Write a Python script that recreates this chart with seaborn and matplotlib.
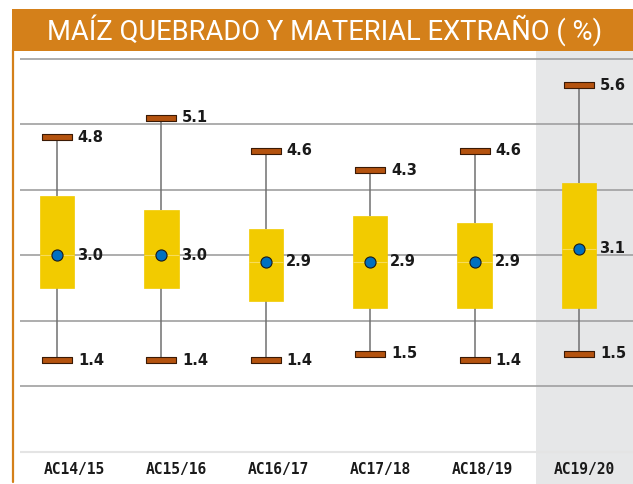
import numpy as np
import pandas as pd
import seaborn as sns
import matplotlib.pyplot as plt
from matplotlib.patches import Rectangle
from matplotlib.lines import Line2D
from matplotlib.path import Path

# datos (%)
campanas = ["AC14/15", "AC15/16", "AC16/17", "AC17/18", "AC18/19", "AC19/20"]
minimo = [1.4, 1.4, 1.4, 1.5, 1.4, 1.5]
q1 = [2.5, 2.5, 2.3, 2.2, 2.2, 2.2]
promedio = [3.0, 3.0, 2.9, 2.9, 2.9, 3.1]
q3 = [3.9, 3.7, 3.4, 3.6, 3.5, 4.1]
maximo = [4.8, 5.1, 4.6, 4.3, 4.6, 5.6]

naranja = "#D4801A"
amarillo = "#F2CB00"
marron = "#B4530F"
azul = "#0070C0"

# cinco puntos por campaña -> cuartiles exactos en el boxplot
filas = []
for i, c in enumerate(campanas):
    for v in [minimo[i], q1[i], promedio[i], q3[i], maximo[i]]:
        filas.append({"campana": c, "valor": v})
df = pd.DataFrame(filas)

sns.set_style("white")
fig = plt.figure(figsize=(6.33, 4.84), dpi=100)
W, H = 633, 484
ax = fig.add_axes([20 / W, 0, 613 / W, (H - 51) / H])

# franja gris de la última campaña
ax.axvspan(4.59, 6.0, color="#E6E7E8", zorder=0, lw=0)

# líneas horizontales
for y in range(1, 7):
    ax.axhline(y, color="#A0A0A0", lw=1.2, zorder=0.5)
ax.axhline(0, color="#E4E4E4", lw=1.5, zorder=0.5)

sns.boxplot(data=df, x="campana", y="valor", order=campanas, ax=ax,
            whis=(0, 100), width=0.33, showfliers=False, saturation=1,
            boxprops=dict(facecolor=amarillo, edgecolor=amarillo, linewidth=0.5, zorder=2),
            whiskerprops=dict(color="#707070", linewidth=1.1, zorder=1.5),
            capprops=dict(color=marron, linewidth=1, zorder=1.5),
            medianprops=dict(color="#F7DC5A", linewidth=0.8, zorder=2.1))

# topes de los bigotes como barritas marrones
barra = Path([(-1, -0.2), (1, -0.2), (1, 0.2), (-1, 0.2), (-1, -0.2)],
             [Path.MOVETO, Path.LINETO, Path.LINETO, Path.LINETO, Path.CLOSEPOLY])
for serie in [minimo, maximo]:
    sns.stripplot(x=campanas, y=serie, order=campanas, jitter=False, ax=ax,
                  marker=barra, size=22, color=marron, edgecolor="#3A1A05",
                  linewidth=0.8, zorder=5)

# promedio
sns.stripplot(x=campanas, y=promedio, order=campanas, jitter=False, ax=ax,
              marker="o", size=8, color=azul, edgecolor="#1A1A1A",
              linewidth=0.8, zorder=6)

# etiquetas de valores
for i in range(len(campanas)):
    for v, dx in [(maximo[i], 0.2), (minimo[i], 0.2), (promedio[i], 0.19)]:
        ax.text(i + dx, v, f"{v:.1f}", ha="left", va="center", fontsize=10.5,
                fontweight="bold", color="#1A1A1A", family="DejaVu Sans", zorder=7)
    # las etiquetas del eje van algo corridas a la derecha en el original
    ax.text(i + 0.17 - 0.024 * i, -0.27, campanas[i], ha="center", va="center",
            fontsize=10.5, fontweight="bold", color="#1A1A1A",
            family="DejaVu Sans Mono")

ax.set_xlim(-0.354, 5.517)
ax.set_ylim(-0.49, 6.12)
ax.set_xlabel("")
ax.set_ylabel("")
ax.set_xticks([])
ax.set_yticks([])
for s in ax.spines.values():
    s.set_visible(False)

# banda del título y borde izquierdo
fig.add_artist(Rectangle((12 / W, (H - 50.5) / H), (W - 12) / W, 41.5 / H,
                         transform=fig.transFigure, color=naranja, lw=0))
fig.add_artist(Line2D([13 / W, 13 / W], [2 / H, (H - 50) / H],
                      transform=fig.transFigure, color=naranja, lw=1.6))
fig.text(325 / W, (H - 30) / H, "MAÍZ QUEBRADO Y MATERIAL EXTRAÑO ( %)",
         ha="center", va="center", color="white", fontsize=19.7,
         family=["Roboto", "DejaVu Sans"])

plt.savefig("out.png", dpi=100)
